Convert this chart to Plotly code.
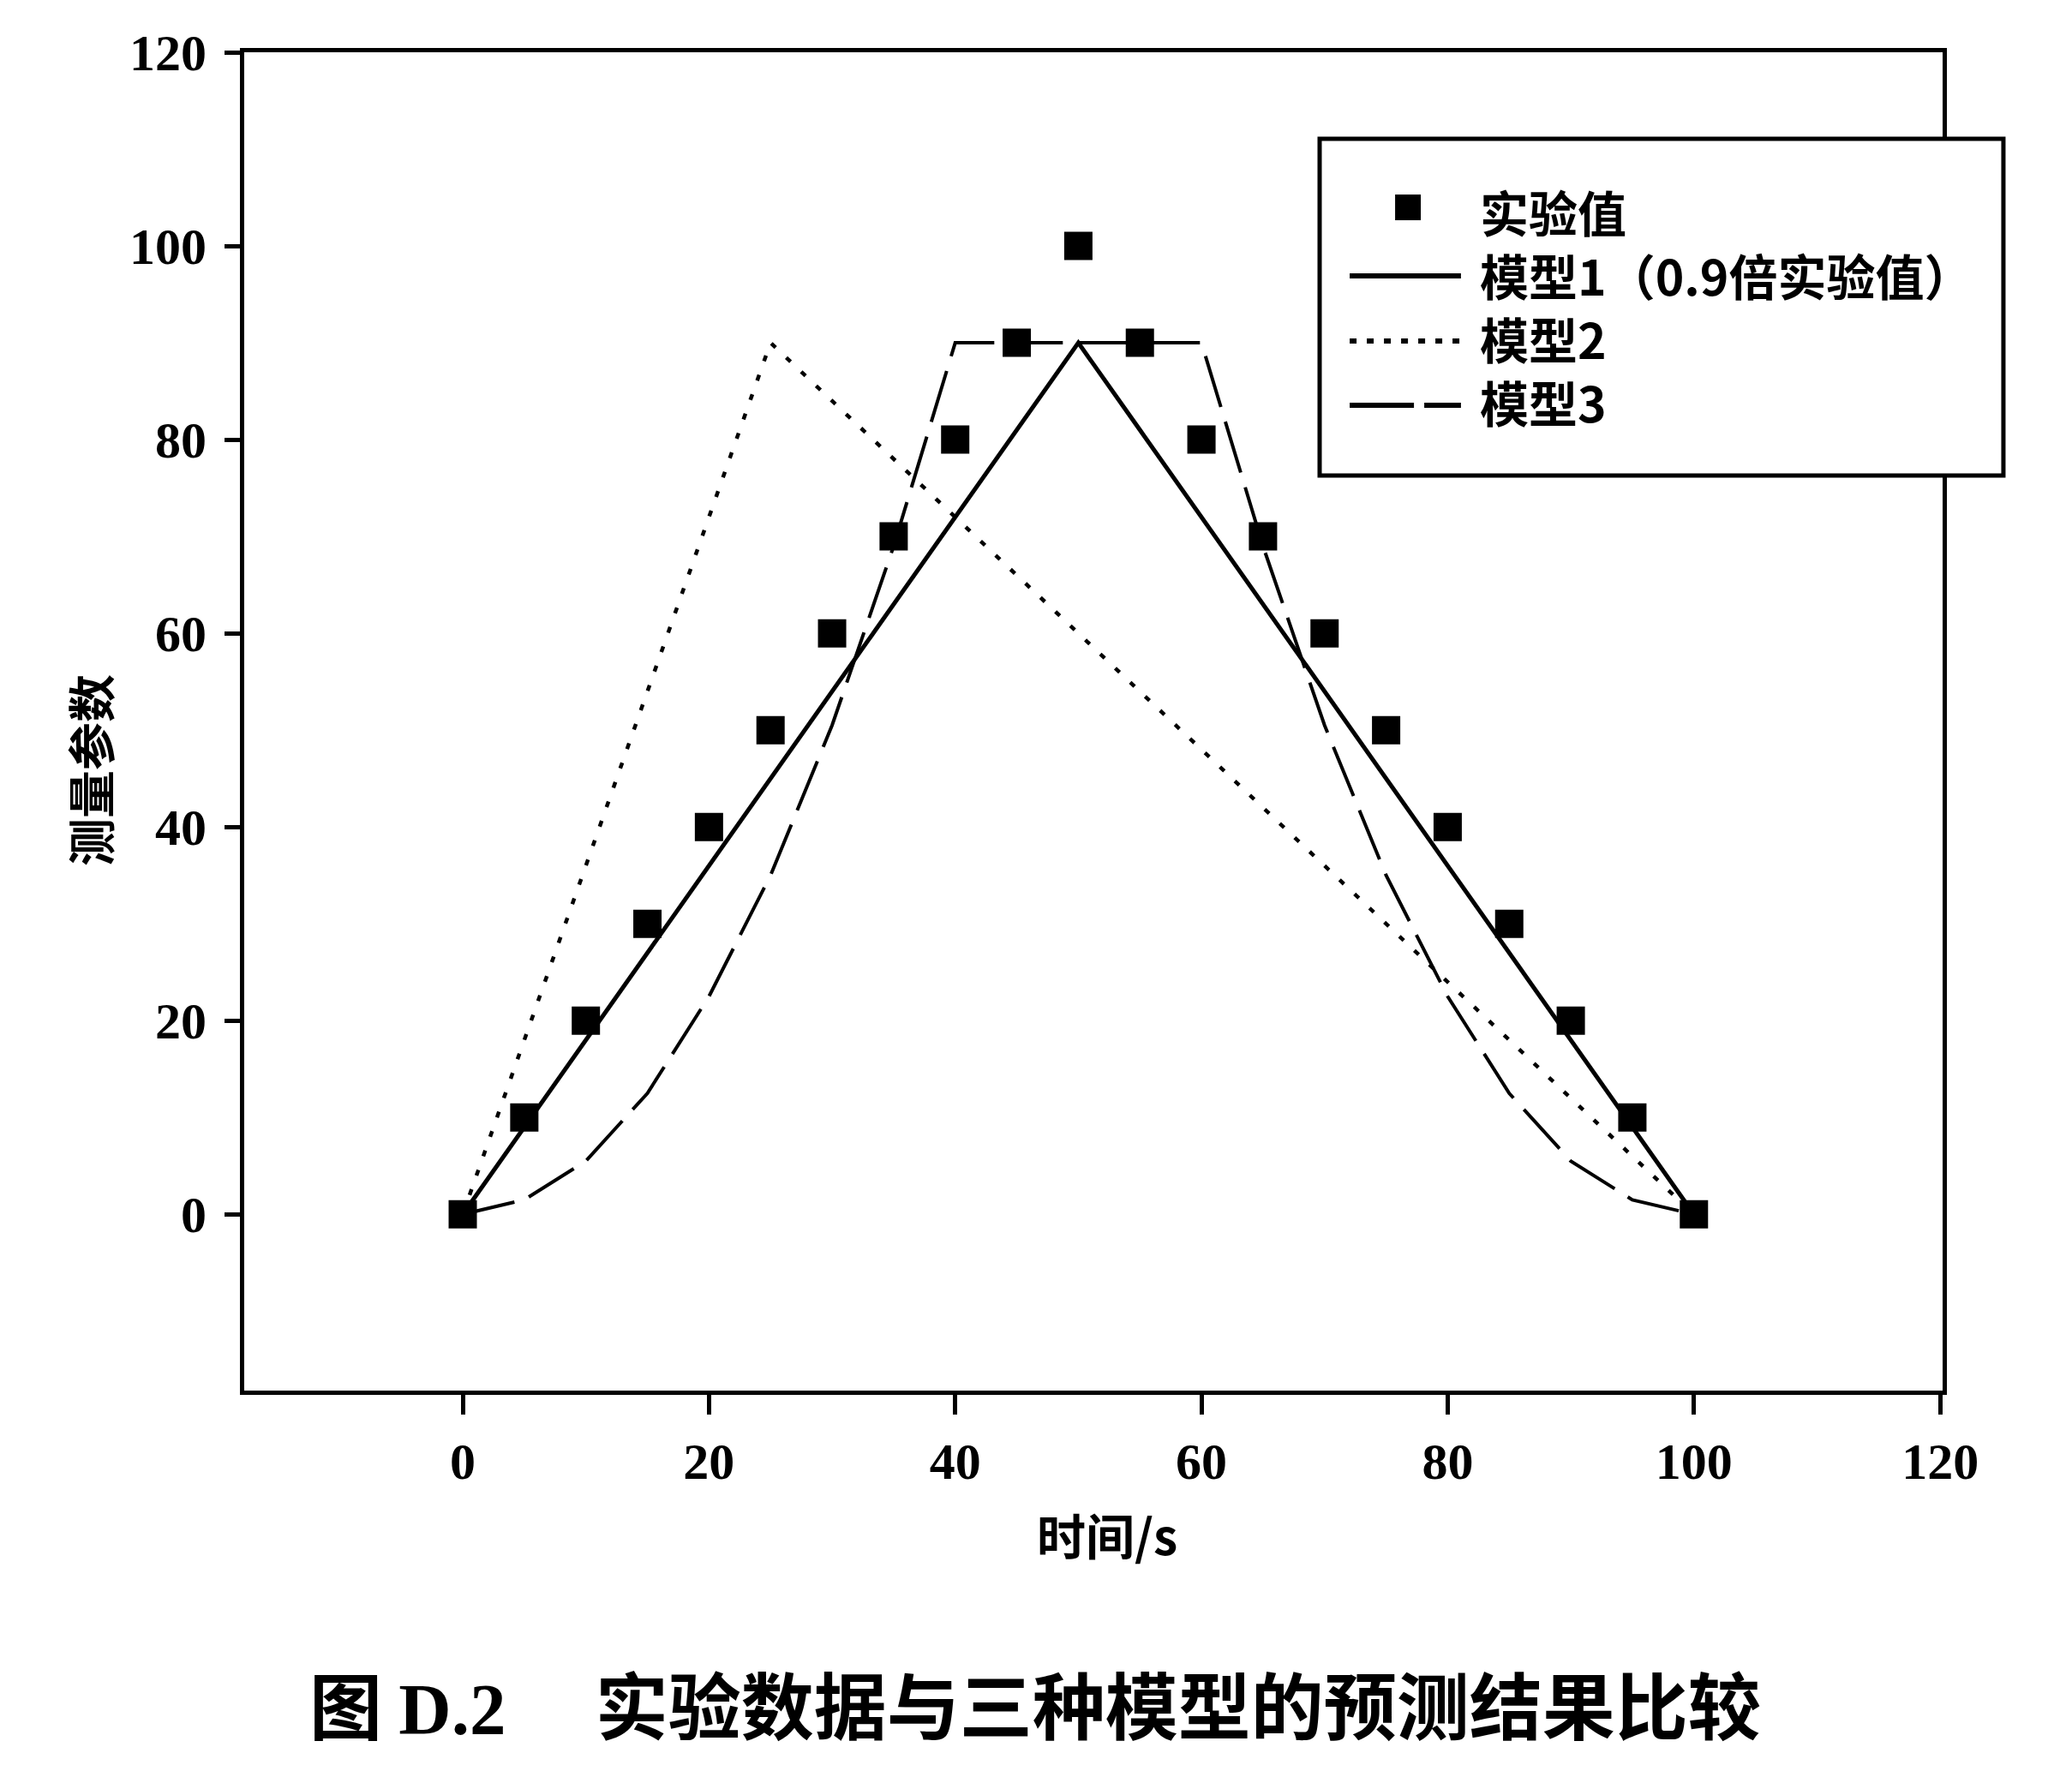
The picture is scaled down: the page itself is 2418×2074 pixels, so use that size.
import plotly.graph_objects as go

# data
time_s = [0, 5, 10, 15, 20, 25, 30, 35, 40, 45, 50, 55, 60, 65, 70, 75, 80, 85, 90, 95, 100]
exp_vals = [0, 10, 20, 30, 40, 50, 60, 70, 80, 90, 100, 90, 80, 70, 60, 50, 40, 30, 20, 10, 0]
model1 = [0, 9, 18, 27, 36, 45, 54, 63, 72, 81, 90, 81, 72, 63, 54, 45, 36, 27, 18, 9, 0]
model2 = [0, 18, 36, 54, 72, 90, 84, 78, 72, 66, 60, 54, 48, 42, 36, 30, 24, 18, 12, 6, 0]
model3 = [0, 1.5, 5.5, 12.5, 22.5, 35, 50.5, 69, 90, 90, 90, 90, 90, 69, 50.5, 35, 22.5, 12.5, 5.5, 1.5, 0]

x_ticks = [0, 20, 40, 60, 80, 100, 120]
y_ticks = [0, 20, 40, 60, 80, 100, 120]

legend_names = ["实验值", "模型1（0.9倍实验值）", "模型2", "模型3"]

cjk = "Noto Sans CJK SC"
num_font = "Liberation Serif"

fig = go.Figure()

fig.add_trace(go.Scatter(x=time_s, y=model1, mode="lines",
                         line=dict(color="black", width=5), showlegend=False))
fig.add_trace(go.Scatter(x=time_s, y=model2, mode="lines",
                         line=dict(color="black", width=4.5, dash="7px,17px"), showlegend=False))
fig.add_trace(go.Scatter(x=time_s, y=model3, mode="lines",
                         line=dict(color="black", width=4, dash="62px,18px"), showlegend=False))
fig.add_trace(go.Scatter(x=time_s, y=exp_vals, mode="markers",
                         marker=dict(symbol="square", size=33, color="black"), showlegend=False))

# hand-made legend box (sits partly outside the frame, like the original)
lx0, lx1 = 0.6332, 1.0358
ly0, ly1 = 0.6837, 0.9353
sx0, sx1 = 0.6509, 0.7164
text_x = 0.7265
row_y = [0.8841, 0.8329, 0.7843, 0.7362]
dashes = ["solid", "8px,12px", "75px,12px"]
widths = [6, 6, 6]

shapes = [dict(type="rect", xref="paper", yref="paper", x0=lx0, x1=lx1, y0=ly0, y1=ly1,
               line=dict(color="black", width=5), fillcolor="white", layer="above")]
shapes.append(dict(type="rect", xref="paper", yref="paper", xsizemode="pixel", ysizemode="pixel",
                   xanchor=0.6852, yanchor=row_y[0], x0=-15, x1=15, y0=-15, y1=15,
                   fillcolor="black", line=dict(width=0), layer="above"))
for yy, dd, ww in zip(row_y[1:], dashes, widths):
    shapes.append(dict(type="line", xref="paper", yref="paper", x0=sx0, x1=sx1, y0=yy, y1=yy,
                       line=dict(color="black", width=ww, dash=dd), layer="above"))

annotations = [dict(text="<br>".join(legend_names), xref="paper", yref="paper",
                    x=text_x, y=0.8102, xanchor="left", yanchor="middle", align="left",
                    showarrow=False,
                    font=dict(family=cjk, size=57, color="black", weight="bold"))]

annotations.append(dict(text="测量参数", xref="paper", yref="paper", x=-0.0918, y=0.4635,
                        textangle=-90, showarrow=False, xanchor="center", yanchor="middle",
                        font=dict(family=cjk, size=56, color="black", weight="bold")))
annotations.append(dict(text="时间/s", xref="paper", yref="paper", x=0.508, y=-0.107,
                        showarrow=False, xanchor="center", yanchor="middle",
                        font=dict(family=cjk, size=57, color="black", weight="bold")))
annotations.append(dict(
    text="图 <span style='font-family:Liberation Serif'>D.2</span>　 实验数据与三种模型的预测结果比较",
    xref="paper", yref="paper", x=0.4655, y=-0.233, showarrow=False,
    xanchor="center", yanchor="middle",
    font=dict(family=cjk, size=85, color="black", weight="bold")))

# page body adds an 8px offset, so margins are shifted to compensate
fig.update_layout(
    width=2418, height=2074,
    margin=dict(l=277, r=159, t=53, b=459),
    paper_bgcolor="white", plot_bgcolor="white",
    shapes=shapes, annotations=annotations,
    xaxis=dict(range=[-17.75, 120.2], tickvals=x_ticks, ticks="outside", ticklen=23,
               tickwidth=5, tickcolor="black", showline=True, linewidth=5, linecolor="black",
               mirror=True, showgrid=False, zeroline=False, ticklabelstandoff=3,
               tickfont=dict(family=num_font, size=60, color="black", weight="bold")),
    yaxis=dict(range=[-18.2, 120], tickvals=y_ticks, ticks="outside", ticklen=18,
               tickwidth=5, tickcolor="black", showline=True, linewidth=5, linecolor="black",
               mirror=True, showgrid=False, zeroline=False, ticklabelstandoff=9,
               tickfont=dict(family=num_font, size=60, color="black", weight="bold")),
)

fig.write_html("out.html")
